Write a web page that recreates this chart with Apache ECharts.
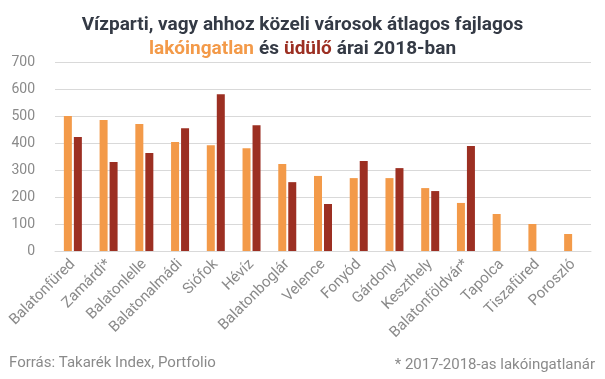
<!DOCTYPE html>
<html>
<head>
<meta charset="utf-8">
<script src="https://cdn.jsdelivr.net/npm/echarts@6/dist/echarts.min.js"></script>
<style>
html,body{margin:0;padding:0;background:#fff;}
#c{width:605px;height:379px;}
</style>
</head>
<body>
<div id="c"></div>
<script>
const categories = ['Balatonfüred','Zamárdi*','Balatonlelle','Balatonalmádi','Siófok','Hévíz','Balatonboglár','Velence','Fonyód','Gárdony','Keszthely','Balatonföldvár*','Tapolca','Tiszafüred','Poroszló'];
const lakoValues = [500,485,470,404,392,381,322,278,270,270,233,178,137,100,63];
const uduloValues = [422,330,363,455,581,466,255,174,333,307,222,389,null,null,null];
const yTicks = [0,100,200,300,400,500,600,700];

const chart = echarts.init(document.getElementById('c'), null, {renderer:'canvas'});
chart.setOption({
  animation:false,
  backgroundColor:'#fff',
  title:{
    left:'center', top:8,
    text:'{a|Vízparti, vagy ahhoz közeli városok átlagos fajlagos}\n{o|lakóingatlan} {a|és} {r|üdülő} {a|árai 2018-ban}',
    textStyle:{
      rich:{
        a:{fontFamily:'Roboto',fontWeight:'bold',fontSize:19,color:'#343a45',lineHeight:24},
        o:{fontFamily:'Roboto',fontWeight:'bold',fontSize:19,color:'#f39a49',lineHeight:24},
        r:{fontFamily:'Roboto',fontWeight:'bold',fontSize:19,color:'#9c2f22',lineHeight:24}
      }
    }
  },
  grid:{left:55,right:14,top:62,bottom:128},
  xAxis:{
    type:'category', data:categories,
    axisLine:{show:true,lineStyle:{color:'#d9d9d9'}},
    axisTick:{show:false},
    axisLabel:{rotate:45,color:'#8a8a8a',fontSize:15,fontFamily:'Roboto',interval:0,margin:11}
  },
  yAxis:{
    type:'value', min:0, max:700, interval:100,
    axisLine:{show:false}, axisTick:{show:false},
    splitLine:{lineStyle:{color:'#d9d9d9'}},
    axisLabel:{color:'#8a8a8a',fontSize:14,fontFamily:'Roboto',margin:20,
      formatter:v=>yTicks.includes(v)?String(v):''}
  },
  series:[
    {type:'bar',name:'lakóingatlan',data:lakoValues,barWidth:8,barGap:'25%',itemStyle:{color:'#f39a49'}},
    {type:'bar',name:'üdülő',data:uduloValues,barWidth:8,itemStyle:{color:'#9c2f22'}}
  ],
  graphic:[
    {type:'text',left:9,top:356,style:{text:'Forrás: Takarék Index, Portfolio',fill:'#8a8a8a',font:"15px Roboto"}},
    {type:'text',right:10,top:358,style:{text:'* 2017-2018-as lakóingatlanár',fill:'#8a8a8a',font:"15px Roboto"}}
  ]
});
</script>
</body>
</html>
